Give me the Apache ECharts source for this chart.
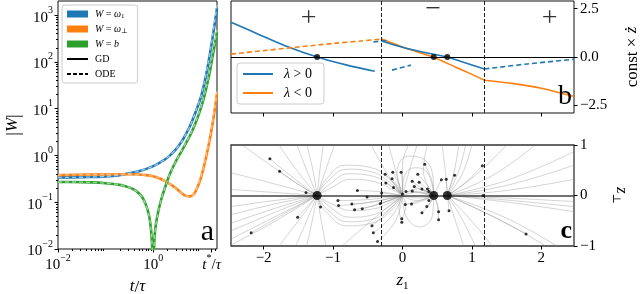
<!DOCTYPE html>
<html><head><meta charset="utf-8">
<script src="https://cdn.jsdelivr.net/npm/echarts@6/dist/echarts.min.js"></script>
<style>html,body{margin:0;padding:0;background:#fff}#c{width:640px;height:294px}</style>
</head><body><div id="c"></div>
<script>
const SERIF = "'Liberation Serif','DejaVu Serif',serif";

// ---------------- Panel a : |W| vs t/tau (log-log) ----------------
const tGrid = [0.01,0.02,0.05,0.1,0.2,0.3,0.5,0.7,1,1.3,1.7,2.2,3,4,5,6,7,8,10,12,14,16,18,20,22];
const omega1GD   = [0.34,0.34,0.345,0.355,0.38,0.41,0.46,0.51,0.59,0.68,0.80,0.98,1.35,2.0,3.0,4.3,6.3,9.0,17,36,78,170,360,720,1400];
const omega1ODE  = [0.34,0.34,0.345,0.355,0.38,0.41,0.46,0.51,0.59,0.68,0.80,0.98,1.35,2.0,3.0,4.3,6.3,9.2,17.5,38,84,185,400,820,1700];
const omegaPGD   = [0.38,0.385,0.39,0.39,0.395,0.395,0.39,0.38,0.36,0.33,0.29,0.25,0.2,0.155,0.135,0.133,0.145,0.18,0.32,0.65,1.3,2.6,5.2,10.5,21];
const omegaPODE  = [0.38,0.385,0.39,0.39,0.395,0.395,0.39,0.38,0.36,0.33,0.29,0.25,0.2,0.155,0.135,0.133,0.146,0.185,0.33,0.68,1.4,2.8,5.7,11.5,23.5];
const tGridB = [0.01,0.02,0.05,0.1,0.2,0.3,0.4,0.5,0.6,0.7,0.8,0.87,0.93,0.97,1.0,1.03,1.08,1.15,1.3,1.5,1.7,2.2,3,4,5,6,7,8,10,12,14,16,18,20,22];
const biasGD  = [0.27,0.27,0.265,0.255,0.235,0.21,0.185,0.155,0.125,0.09,0.058,0.036,0.018,0.007,0.002,0.007,0.02,0.035,0.068,0.12,0.18,0.38,0.75,1.25,1.9,2.7,3.8,5.3,10,19,37,72,140,250,430];
const biasODE = [0.27,0.27,0.265,0.255,0.235,0.21,0.185,0.155,0.125,0.09,0.058,0.036,0.018,0.007,0.002,0.007,0.02,0.035,0.068,0.12,0.18,0.38,0.76,1.28,1.95,2.8,3.95,5.5,10.5,20,40,78,155,280,480];
const aXRange = [0.01, 22];
const aYRange = [0.01, 2000];
const aXTicks = [0.01, 1, 17];
const aXTickLabels = ['{b|10}{s|−2}', '{b|10}{s|0}', '{i|t}{s|*}{b|/}{i|τ}'];
const aYTicks = [0.01, 0.1, 1, 10, 100, 1000];
const aYTickLabels = ['{b|10}{s|−2}','{b|10}{s|−1}','{b|10}{s|0}','{b|10}{s|1}','{b|10}{s|2}','{b|10}{s|3}'];
const minorMultipliers = [2,3,4,5,6,7,8,9];
const aLegendLabels = {w1:'{i|W} = {i|ω}{s|1}', wp:'{i|W} = {i|ω}{s|⊥}', b:'{i|W} = {i|b}', GD:'GD', ODE:'ODE'};

// ---------------- Panel b : const x zdot vs z1 ----------------
const zRange = [-2.47, 2.47];
const bYRange = [-2.9, 2.9];
const zTicks = [-2, -1, 0, 1, 2];
const bYTicks = [-2.5, 0, 2.5];
const bLamPosLeft   = [[-2.47,1.8],[-2.1,1.22],[-1.7,0.6],[-1.23,0],[-0.8,-0.42],[-0.4,-0.74]];
const bLamPosMid    = [[-0.3,0.83],[0.0,0.5],[0.3,0.25],[0.64,0],[0.9,-0.3],[1.18,-0.62]];
const bLamPosDashA  = [[-0.42,0.78],[-0.22,0.86]];
const bLamPosDashB  = [[-0.15,-0.68],[0.12,-0.42]];
const bLamPosDashC  = [[1.18,-0.62],[1.8,-0.36],[2.47,-0.12]];
const bLamNegDash   = [[-2.47,0.15],[-2.0,0.33],[-1.5,0.52],[-1.0,0.7],[-0.6,0.83],[-0.3,0.93]];
const bLamNegMid    = [[-0.3,0.93],[0.05,0.45],[0.44,0],[0.75,-0.5],[1.0,-0.9],[1.18,-1.2]];
const bLamNegRight  = [[1.18,-1.2],[1.6,-1.38],[2.0,-1.62],[2.47,-2.05]];
const fixedPoints   = [[-1.23,0],[0.45,0],[0.645,0]];
const regionBounds  = [-0.3, 1.18];
const signX = [-1.35, 0.44, 2.12];
const signY = [2.0, 2.45, 2.0];
const signText = ['+', '−', '+'];

// ---------------- Panel c : flow in (z1, zperp) ----------------
const cYRange = [-1, 1];
const cYTicks = [-1, 0, 1];
const flowLines = [
 [[-2.31,1.0],[-1.9,0.6],[-1.5,0.22],[-1.23,0]],
 [[-1.91,0.73],[-1.6,0.38],[-1.23,0]],
 [[-1.77,0.48],[-1.5,0.22],[-1.23,0]],
 [[-1.78,1.0],[-1.55,0.55],[-1.23,0]],
 [[-1.52,1.0],[-1.38,0.5],[-1.23,0]],
 [[-1.38,1.0],[-1.29,0.5],[-1.23,0]],
 [[-1.14,1.0],[-1.19,0.5],[-1.23,0]],
 [[-0.98,1.0],[-1.12,0.45],[-1.23,0]],
 [[-2.47,0.45],[-1.9,0.25],[-1.23,0]],
 [[-2.47,0.12],[-1.85,0.06],[-1.23,0]],
 [[-2.47,-0.22],[-1.85,-0.1],[-1.23,0]],
 [[-2.47,-0.38],[-1.85,-0.17],[-1.23,0]],
 [[-2.47,-0.55],[-1.85,-0.26],[-1.23,0]],
 [[-2.47,-0.7],[-1.85,-0.34],[-1.23,0]],
 [[-2.47,-0.86],[-1.85,-0.43],[-1.23,0]],
 [[-2.47,-0.98],[-1.85,-0.52],[-1.23,0]],
 [[-2.18,-0.74],[-1.7,-0.36],[-1.23,0]],
 [[-1.51,-0.43],[-1.36,-0.2],[-1.23,0]],
 [[-1.39,0.06],[-1.23,0]],
 [[-1.78,-1.0],[-1.5,-0.5],[-1.23,0]],
 [[-1.54,-1.0],[-1.38,-0.5],[-1.23,0]],
 [[-1.38,-1.0],[-1.3,-0.5],[-1.23,0]],
 [[-1.1,-1.0],[-1.17,-0.5],[-1.23,0]],
 [[-1.18,-0.23],[-1.23,0]],
 [[-1.23,0],[-1.1,0.32],[-0.82,0.6],[-0.45,0.55],[-0.15,0.28],[0,0]],
 [[-1.23,0],[-1.08,0.28],[-0.8,0.52],[-0.45,0.47],[-0.15,0.22],[0,0]],
 [[-1.23,0],[-1.05,0.22],[-0.78,0.43],[-0.42,0.38],[-0.15,0.17],[0,0]],
 [[-1.23,0],[-1.02,0.16],[-0.75,0.32],[-0.4,0.27],[-0.12,0.1],[0,0]],
 [[-1.23,0],[-1.1,-0.32],[-0.8,-0.6],[-0.45,-0.55],[-0.15,-0.28],[0,0]],
 [[-1.23,0],[-1.08,-0.28],[-0.78,-0.52],[-0.43,-0.47],[-0.15,-0.22],[0,0]],
 [[-1.23,0],[-1.05,-0.22],[-0.76,-0.43],[-0.42,-0.38],[-0.14,-0.16],[0,0]],
 [[-1.23,0],[-1.03,-0.16],[-0.72,-0.3],[-0.4,-0.26],[-0.12,-0.1],[0,0]],
 [[-0.93,-0.1],[-0.5,-0.08],[0,0]],
 [[-0.92,-0.2],[-0.5,-0.14],[0,0]],
 [[-0.73,-0.17],[-0.4,-0.12],[0,0]],
 [[-0.69,-0.28],[-0.35,-0.18],[0,0]],
 [[-0.58,-0.26],[-0.3,-0.15],[0,0]],
 [[-0.65,0.1],[-0.3,0.07],[0,0]],
 [[-0.51,-0.03],[-0.25,-0.02],[0,0]],
 [[-0.87,-1.0],[-0.45,-0.5],[0,0]],
 [[-0.44,-0.6],[-0.2,-0.3],[0,0]],
 [[-0.42,-0.74],[-0.15,-0.4],[0,0]],
 [[-0.36,-0.91],[-0.1,-0.5],[0,0]],
 [[-0.45,1.0],[-0.25,0.5],[0,0]],
 [[-0.2,1.0],[-0.1,0.5],[0,0]],
 [[-0.25,0.42],[-0.1,0.2],[0,0]],
 [[-0.24,0.25],[-0.1,0.12],[0,0]],
 [[-0.15,0.33],[-0.05,0.15],[0,0]],
 [[-0.14,0.46],[-0.05,0.22],[0,0]],
 [[-0.02,0.46],[0.0,0.2],[0,0]],
 [[-0.13,0.16],[0,0]],
 [[-0.32,-0.16],[0,0]],
 [[-0.3,0.05],[0,0]],
 [[-0.01,-0.46],[0.05,-0.2],[0,0]],
 [[-0.01,-0.53],[-0.05,-0.25],[0,0]],
 [[0,0],[0.23,0.07],[0.45,0]],
 [[0,0],[0.23,-0.05],[0.45,0]],
 [[0,0],[0.2,0.13],[0.45,0]],
 [[0,0],[0.2,-0.1],[0.45,0]],
 [[0,0],[-0.08,0.45],[0.08,0.78],[0.3,0.72],[0.44,0.35],[0.45,0]],
 [[0,0],[0.02,0.35],[0.18,0.55],[0.36,0.45],[0.45,0]],
 [[0,0],[0.05,-0.4],[0.25,-0.62],[0.43,-0.4],[0.45,0]],
 [[0.09,1.0],[0.0,0.6],[0,0]],
 [[0.21,1.0],[0.1,0.5],[0,0]],
 [[0.36,1.0],[0.3,0.5],[0.45,0]],
 [[0.32,0.62],[0.42,0.3],[0.45,0]],
 [[0.22,0.42],[0.36,0.2],[0.45,0]],
 [[0.14,0.28],[0.3,0.12],[0.45,0]],
 [[0.24,0.26],[0.36,0.12],[0.45,0]],
 [[0.17,0.18],[0.32,0.08],[0.45,0]],
 [[0.28,0.13],[0.38,0.06],[0.45,0]],
 [[0.36,0.13],[0.45,0]],
 [[0.38,0.08],[0.45,0]],
 [[0.05,0.08],[0.25,0.05],[0.45,0]],
 [[0.14,0.09],[0.3,0.05],[0.45,0]],
 [[0.04,-0.18],[0.25,-0.1],[0.45,0]],
 [[0.13,-0.17],[0.3,-0.1],[0.45,0]],
 [[0.35,-0.22],[0.42,-0.1],[0.45,0]],
 [[0.28,-0.34],[0.4,-0.15],[0.45,0]],
 [[0.38,-0.1],[0.45,0]],
 [[0.52,-0.32],[0.5,-0.15],[0.45,0]],
 [[0.52,-0.48],[0.5,-0.2],[0.45,0]],
 [[0.56,0.31],[0.5,0.15],[0.45,0]],
 [[0.63,0.32],[0.64,0.15],[0.645,0]],
 [[0.67,-0.3],[0.66,-0.15],[0.645,0]],
 [[0.75,0.4],[0.68,0.15],[0.645,0]],
 [[1.15,0.59],[0.9,0.25],[0.645,0]],
 [[1.16,0],[0.645,0]],
 [[1.78,-0.76],[1.2,-0.35],[0.645,0]],
 [[2.47,0.87],[1.5,0.3],[0.645,0]],
 [[2.47,0.6],[1.5,0.2],[0.645,0]],
 [[2.47,0.32],[1.5,0.1],[0.645,0]],
 [[2.47,-0.12],[1.5,-0.05],[0.645,0]],
 [[2.47,-0.22],[1.5,-0.09],[0.645,0]],
 [[2.47,-0.32],[1.5,-0.13],[0.645,0]],
 [[2.22,-1.0],[1.5,-0.45],[0.645,0]],
 [[2.06,-1.0],[1.4,-0.48],[0.645,0]],
 [[1.91,1.0],[1.3,0.4],[0.645,0]],
 [[1.5,1.0],[1.05,0.4],[0.645,0]],
 [[1.0,1.0],[0.85,0.4],[0.645,0]],
 [[0.91,1.0],[0.8,0.45],[0.645,0]],
 [[0.81,1.0],[0.74,0.45],[0.645,0]],
 [[0.57,1.0],[0.62,0.45],[0.645,0]],
 [[0.88,-1.0],[0.75,-0.45],[0.645,0]],
 [[1.05,-1.0],[0.85,-0.45],[0.645,0]],
 [[1.29,-1.0],[0.96,-0.45],[0.645,0]]
];
const startDots = [
 [-1.91,0.73],[-1.77,0.48],[-1.39,0.06],[-2.18,-0.74],[-1.51,-0.43],[-1.18,-0.23],
 [-0.93,-0.1],[-0.92,-0.2],[-0.73,-0.17],[-0.69,-0.28],[-0.58,-0.26],[-0.65,0.1],[-0.51,-0.03],
 [-0.44,-0.6],[-0.42,-0.74],[-0.36,-0.91],[-0.32,-0.16],[-0.3,0.05],[-0.25,0.42],[-0.24,0.25],
 [-0.15,0.33],[-0.14,0.46],[-0.02,0.46],[-0.13,0.16],[-0.01,-0.46],[-0.01,-0.53],[0.14,0.09],
 [0.32,0.62],[0.22,0.42],[0.14,0.28],[0.24,0.26],[0.17,0.18],[0.28,0.13],[0.36,0.13],[0.38,0.08],
 [0.05,0.08],[0.0,0.03],[0.56,0.31],[0.63,0.32],[0.75,0.4],[1.15,0.59],[0.38,-0.1],[0.04,-0.18],
 [0.13,-0.17],[0.35,-0.22],[0.28,-0.34],[0.52,-0.32],[0.67,-0.3],[0.52,-0.48],[1.16,0],[1.78,-0.76]
];

// ---------------- build ----------------
const C_BLUE = '#1f77b4', C_ORANGE = '#ff7f0e', C_GREEN = '#2ca02c';
const pairs = (xs, ys) => xs.map((x, i) => [x, ys[i]]);
const nearestLabel = (v, ticks, labels) => {
  let best = 0;
  ticks.forEach((t, i) => { if (Math.abs(t - v) < Math.abs(ticks[best] - v)) best = i; });
  return labels[best];
};
const minus = v => (v < 0 ? '−' : '') + Math.abs(v);
const supRich = {
  b: {fontFamily: SERIF, fontSize: 15, color: '#000', lineHeight: 20, verticalAlign: 'bottom'},
  i: {fontFamily: SERIF, fontSize: 15, color: '#000', fontStyle: 'italic', lineHeight: 20, verticalAlign: 'bottom'},
  s: {fontFamily: SERIF, fontSize: 10, color: '#000', lineHeight: 11, verticalAlign: 'top'}
};
const nameRich = {
  i: {fontFamily: SERIF, fontSize: 17, fontStyle: 'italic', color: '#000', lineHeight: 20, verticalAlign: 'top'},
  s: {fontFamily: SERIF, fontSize: 11, color: '#000', lineHeight: 11, verticalAlign: 'bottom'}
};
const tickStyle = {lineStyle: {color: '#000', width: 1}};
const hiddenLine = {show: false, onZero: false};
const noSplit = {show: false};
const L10 = Math.log10;
const minorFor = (lo, hi) => {
  const out = [];
  for (let n = Math.floor(L10(lo)); n <= Math.ceil(L10(hi)); n++)
    minorMultipliers.forEach(k => { const v = k * Math.pow(10, n); if (v > lo && v < hi) out.push(L10(v)); });
  return out;
};
const noSymbolIcon = {color: 'rgba(0,0,0,0)', borderColor: 'rgba(0,0,0,0)', borderWidth: 0, opacity: 0};

const series = [];
function aLine(name, xs, ys, color, width, dashed, z) {
  series.push({name, type: 'line', xAxisIndex: 0, yAxisIndex: 0, data: pairs(xs, ys),
    symbol: 'none', smooth: 0.25, z,
    lineStyle: {color, width, type: dashed ? [4, 3] : 'solid'}, itemStyle: {color}});
}
aLine('w1', tGrid, omega1GD, C_BLUE, 2.6, false, 2);
aLine('wp', tGrid, omegaPGD, C_ORANGE, 2.6, false, 2);
aLine('b', tGridB, biasGD, C_GREEN, 2.6, false, 2);
aLine('w1 ode', tGrid, omega1ODE, '#9cc6e6', 1.4, true, 3);
aLine('wp ode', tGrid, omegaPODE, '#ffc189', 1.4, true, 3);
aLine('b ode', tGridB, biasODE, '#9bd49b', 1.4, true, 3);
series.push({name: 'GD', type: 'line', xAxisIndex: 0, yAxisIndex: 0, data: [], symbol: 'none',
  lineStyle: {color: '#000', width: 1.6}, itemStyle: {color: '#000'}});
series.push({name: 'ODE', type: 'line', xAxisIndex: 0, yAxisIndex: 0, data: [], symbol: 'none',
  lineStyle: {color: '#000', width: 1.6, type: [4, 2]}, itemStyle: {color: '#000'}});

function bLine(name, data, color, dashed, smooth) {
  series.push({name, type: 'line', xAxisIndex: 3, yAxisIndex: 3, data, symbol: 'none',
    smooth: smooth, z: 3, lineStyle: {color, width: 1.6, type: dashed ? [5, 3] : 'solid'},
    itemStyle: {color}});
}
bLine('λ > 0', bLamPosLeft, C_BLUE, false, 0.3);
bLine('λ < 0', bLamNegMid, C_ORANGE, false, 0.2);
bLine('λ > 0 mid', bLamPosMid, C_BLUE, false, 0.3);
bLine('λ > 0 ext a', bLamPosDashA, C_BLUE, true, false);
bLine('λ > 0 ext b', bLamPosDashB, C_BLUE, true, false);
bLine('λ > 0 ext c', bLamPosDashC, C_BLUE, true, 0.3);
bLine('λ < 0 ext', bLamNegDash, C_ORANGE, true, 0.3);
bLine('λ < 0 right', bLamNegRight, C_ORANGE, false, 0.3);
const boundaryLines = [
  {yAxis: 0, lineStyle: {color: '#000', width: 1.2, type: 'solid'}},
  ...regionBounds.map(x => ({xAxis: x, lineStyle: {color: '#222', width: 1, type: [4, 2]}}))
];
series.push({name: 'fp b', type: 'scatter', xAxisIndex: 3, yAxisIndex: 3, data: fixedPoints,
  symbolSize: 6, itemStyle: {color: '#000'}, z: 5,
  markLine: {silent: true, symbol: 'none', label: {show: false}, data: boundaryLines}});
series.push({name: 'signs', type: 'scatter', xAxisIndex: 3, yAxisIndex: 3,
  data: signX.map((x, i) => [x, signY[i]]), symbolSize: 0, z: 5,
  label: {show: true, position: 'inside', formatter: p => signText[p.dataIndex],
    fontFamily: SERIF, fontSize: 28, color: '#000'}});

flowLines.forEach((pts, k) => series.push({name: 'flow' + k, type: 'line', xAxisIndex: 4, yAxisIndex: 4,
  data: pts, symbol: 'none', smooth: 0.45, z: 2, silent: true,
  lineStyle: {color: 'rgba(140,140,140,0.42)', width: 0.9}}));
series.push({name: 'starts', type: 'scatter', xAxisIndex: 4, yAxisIndex: 4, data: startDots,
  symbolSize: 3, itemStyle: {color: '#000'}, z: 5,
  markLine: {silent: true, symbol: 'none', label: {show: false}, data: [
    {yAxis: 0, lineStyle: {color: '#444', width: 1.5, type: 'solid'}},
    ...regionBounds.map(x => ({xAxis: x, lineStyle: {color: '#222', width: 1, type: [4, 2]}}))]}});
series.push({name: 'fp c', type: 'scatter', xAxisIndex: 4, yAxisIndex: 4, data: fixedPoints,
  symbolSize: 9, itemStyle: {color: '#000'}, z: 6});

const gridBase = {show: true, borderColor: '#111', borderWidth: 1, backgroundColor: 'transparent', outerBoundsMode: 'none', containLabel: false};

const option = {
  animation: false,
  textStyle: {fontFamily: SERIF},
  grid: [
    {...gridBase, left: 58, top: 1, width: 159, height: 248},
    {...gridBase, left: 231, top: 1, width: 343, height: 112},
    {...gridBase, left: 231, top: 145, width: 343, height: 101, borderColor: '#333', borderWidth: 1.3}
  ],
  xAxis: [
    {gridIndex: 0, type: 'log', min: aXRange[0], max: aXRange[1], show: false},
    {gridIndex: 0, type: 'value', min: L10(aXRange[0]), max: L10(aXRange[1]), position: 'bottom',
      axisLine: hiddenLine, splitLine: noSplit,
      axisTick: {show: true, length: 3.5, customValues: aXTicks.map(L10), ...tickStyle},
      axisLabel: {show: true, margin: 4, customValues: aXTicks.map(L10), rich: supRich,
        formatter: v => nearestLabel(v, aXTicks.map(L10), aXTickLabels)},
      name: '{i|t}/{i|τ}', nameLocation: 'middle', nameGap: 22,
      nameTextStyle: {fontFamily: SERIF, fontSize: 17, color: '#000', rich: nameRich}},
    {gridIndex: 0, type: 'value', min: L10(aXRange[0]), max: L10(aXRange[1]), position: 'bottom',
      axisLine: hiddenLine, splitLine: noSplit, axisLabel: {show: false},
      axisTick: {show: true, length: 2, customValues: minorFor(aXRange[0], aXRange[1]), ...tickStyle}},
    {gridIndex: 1, type: 'value', min: zRange[0], max: zRange[1], position: 'bottom',
      axisLine: hiddenLine, splitLine: noSplit, axisLabel: {show: false},
      axisTick: {show: true, inside: false, length: 3.5, customValues: zTicks, ...tickStyle}},
    {gridIndex: 2, type: 'value', min: zRange[0], max: zRange[1], position: 'bottom',
      axisLine: hiddenLine, splitLine: noSplit,
      axisTick: {show: true, length: 3.5, customValues: zTicks, ...tickStyle},
      axisLabel: {show: true, margin: 5, customValues: zTicks, formatter: v => minus(Math.round(v)),
        fontFamily: SERIF, fontSize: 15, color: '#000'},
      name: '{i|z}{s|1}', nameLocation: 'middle', nameGap: 26,
      nameTextStyle: {fontFamily: SERIF, fontSize: 17, color: '#000', rich: nameRich}}
  ],
  yAxis: [
    {gridIndex: 0, type: 'log', min: aYRange[0], max: aYRange[1], show: false},
    {gridIndex: 0, type: 'value', min: L10(aYRange[0]), max: L10(aYRange[1]), position: 'left',
      axisLine: hiddenLine, splitLine: noSplit,
      axisTick: {show: true, length: 3.5, customValues: aYTicks.map(L10), ...tickStyle},
      axisLabel: {show: true, margin: 5, customValues: aYTicks.map(L10), rich: supRich,
        formatter: v => nearestLabel(v, aYTicks.map(L10), aYTickLabels)},
      name: '|{i|W}|', nameLocation: 'middle', nameGap: 34, nameRotate: 90,
      nameTextStyle: {fontFamily: SERIF, fontSize: 18, color: '#000', rich: nameRich}},
    {gridIndex: 0, type: 'value', min: L10(aYRange[0]), max: L10(aYRange[1]), position: 'left',
      axisLine: hiddenLine, splitLine: noSplit, axisLabel: {show: false},
      axisTick: {show: true, length: 2, customValues: minorFor(aYRange[0], aYRange[1]), ...tickStyle}},
    {gridIndex: 1, type: 'value', min: bYRange[0], max: bYRange[1], position: 'right',
      axisLine: hiddenLine, splitLine: noSplit,
      axisTick: {show: true, length: 3.5, customValues: bYTicks, ...tickStyle},
      axisLabel: {show: true, margin: 6, customValues: bYTicks,
        formatter: v => (v < 0 ? '−' : '') + Math.abs(v).toFixed(1), fontFamily: SERIF, fontSize: 15, color: '#000'},
      name: 'const × {i|ż}', nameLocation: 'middle', nameGap: 49, nameRotate: 90,
      nameTextStyle: {fontFamily: SERIF, fontSize: 17, color: '#000', rich: nameRich}},
    {gridIndex: 2, type: 'value', min: cYRange[0], max: cYRange[1], position: 'right',
      axisLine: hiddenLine, splitLine: noSplit,
      axisTick: {show: true, length: 3.5, customValues: cYTicks, ...tickStyle},
      axisLabel: {show: true, margin: 6, customValues: cYTicks, formatter: v => minus(Math.round(v)),
        fontFamily: SERIF, fontSize: 15, color: '#000'},
      name: '{i|z}{s|⊥}', nameLocation: 'middle', nameGap: 36, nameRotate: -90,
      nameTextStyle: {fontFamily: SERIF, fontSize: 17, color: '#000', rich: nameRich}}
  ],
  legend: [
    {data: [{name: 'w1', icon: 'rect'}, {name: 'wp', icon: 'rect'}, {name: 'b', icon: 'rect'},
            {name: 'GD', itemStyle: noSymbolIcon}, {name: 'ODE', itemStyle: noSymbolIcon}],
      left: 62, top: 5, orient: 'vertical', itemWidth: 21, itemHeight: 7, itemGap: 3, padding: [3, 10, 3, 4],
      backgroundColor: 'rgba(255,255,255,0.85)', borderColor: '#cccccc', borderWidth: 1, borderRadius: 3,
      selectedMode: false, formatter: n => '{g|}' + aLegendLabels[n],
      textStyle: {fontFamily: SERIF, fontSize: 10, color: '#000', lineHeight: 12,
        rich: {g: {width: 2},
               i: {fontFamily: SERIF, fontSize: 10, fontStyle: 'italic', color: '#000', lineHeight: 12},
               s: {fontFamily: SERIF, fontSize: 7, color: '#000', lineHeight: 8, verticalAlign: 'bottom'}}}},
    {data: [{name: 'λ > 0', itemStyle: noSymbolIcon}, {name: 'λ < 0', itemStyle: noSymbolIcon}],
      left: 237, top: 63, orient: 'vertical', itemWidth: 30, itemHeight: 10,
      itemGap: 5, padding: [4, 12, 4, 5],
      backgroundColor: 'rgba(255,255,255,0.85)', borderColor: '#cccccc', borderWidth: 1, borderRadius: 3,
      selectedMode: false, formatter: n => '{g|}' + n.replace('λ', '{i|λ}'),
      textStyle: {fontFamily: SERIF, fontSize: 14, color: '#000', lineHeight: 14,
        rich: {g: {width: 6},
               i: {fontFamily: SERIF, fontSize: 14, fontStyle: 'italic', color: '#000', lineHeight: 14}}}}
  ],
  graphic: [
    {type: 'text', x: 214, y: 247, z: 10, style: {text: 'a', fontFamily: SERIF, fontSize: 30, fill: '#000', align: 'right', verticalAlign: 'bottom', textAlign: 'right', textVerticalAlign: 'bottom'}},
    {type: 'text', x: 572, y: 111, z: 10, style: {text: 'b', fontFamily: SERIF, fontSize: 28, fill: '#000', align: 'right', verticalAlign: 'bottom', textAlign: 'right', textVerticalAlign: 'bottom'}},
    {type: 'text', x: 572, y: 244, z: 10, style: {text: 'c', fontFamily: SERIF, fontSize: 26, fontWeight: 'bold', fill: '#000', align: 'right', verticalAlign: 'bottom', textAlign: 'right', textVerticalAlign: 'bottom'}}
  ],
  series
};
const chart = echarts.init(document.getElementById('c'), null, {renderer: 'canvas'});
chart.setOption(option);
</script></body></html>
